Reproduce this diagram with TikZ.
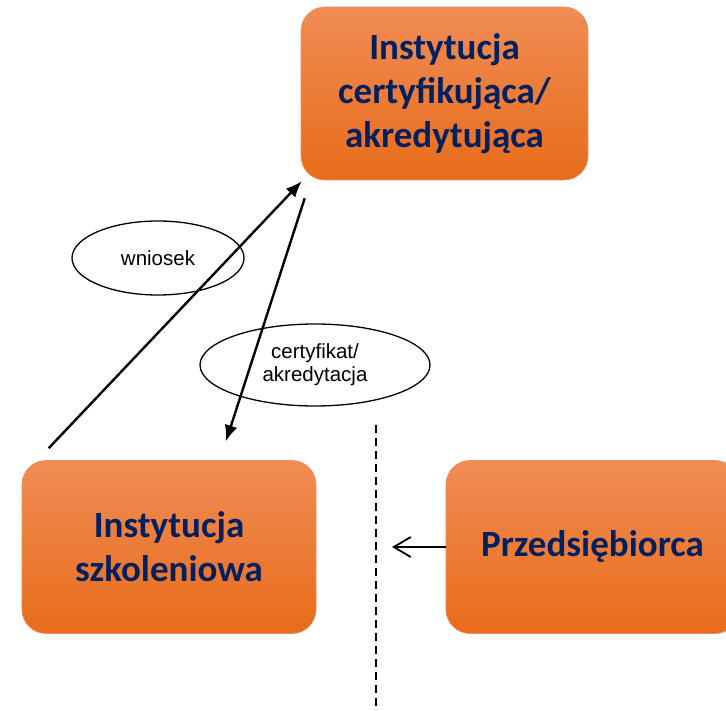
\documentclass[tikz,border=0pt]{standalone}
\usepackage{fontspec}
\setmainfont{Liberation Sans}
\newfontfamily\boxfont{Carlito}
\usetikzlibrary{shapes.geometric,arrows.meta}
\definecolor{navy}{RGB}{0,32,96}
\definecolor{orgtop}{RGB}{240,140,84}
\definecolor{orgmid}{RGB}{241,122,40}
\definecolor{orgbot}{RGB}{232,108,26}
\begin{document}
\begin{tikzpicture}[x=1pt,y=-1pt,
        orgbox/.style={rectangle,rounded corners=24pt,draw=orgtop,line width=0.6pt,
            top color=orgtop,middle color=orgmid,bottom color=orgbot,
            minimum width=290pt,minimum height=173pt,align=center,text=navy,
            font=\boxfont\bfseries\fontsize{37}{44}\selectfont},
        tag/.style={ellipse,draw,line width=1.3pt,inner sep=0pt,align=center,
            font=\fontsize{20.5}{23}\selectfont},
        flow/.style={line width=2.4pt,-{Latex[length=16pt,width=13pt]}}]
                \useasboundingbox (0,0) rectangle (726,711);
                %% boxes
                \node[orgbox,minimum width=287pt] (certy) at (444.5,93.5) {Instytucja\\certyfikująca/\\akredytująca};
                \node[orgbox,minimum width=294pt] (szkol) at (169,547) {Instytucja\\szkoleniowa};
                \node[orgbox,minimum width=293pt] (przed) at (592.5,547) {Przedsiębiorca};
                %% labels
                \node[tag,minimum width=172pt,minimum height=74pt] (wn) at (158,258) {wniosek};
                \node[tag,minimum width=230pt,minimum height=82pt] (cert) at (315,365) {certyfikat/\\akredytacja};
                %% flows
                \draw[flow] ([shift={(27pt,12pt)}]szkol.north west) -- ([shift={(1pt,-1pt)}]certy.south west);
                \draw[flow] ([shift={(4pt,-18pt)}]certy.south west) -- ([shift={(57pt,19pt)}]szkol.north);
                %% border line
                \coordinate (dtop) at (376,425);
                \coordinate (dbot) at (376,711);
                \coordinate (mid) at (392,547);
                \draw[line width=1.4pt,dash pattern=on 8pt off 5pt] (dtop) -- (dbot);
                \draw[line width=1.8pt,-{Straight Barb[length=17pt,width=20pt]}] (przed.west) -- (mid);
            \end{tikzpicture}
\end{document}
